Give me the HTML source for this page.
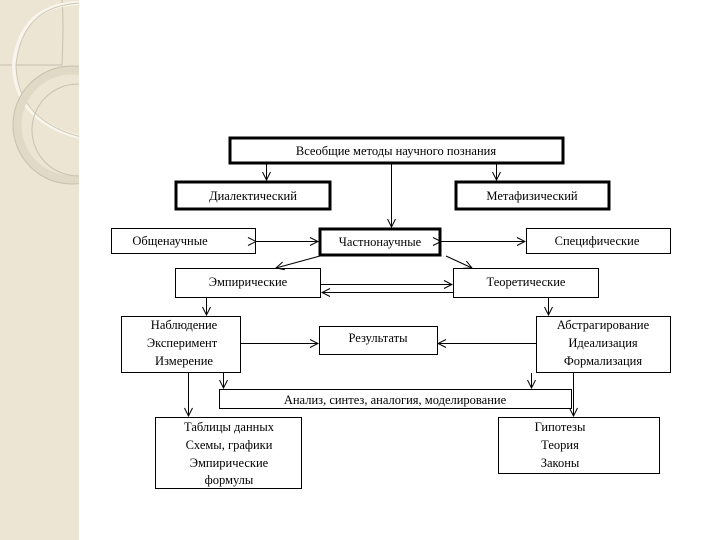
<!DOCTYPE html>
<html><head><meta charset="utf-8"><style>
html,body{margin:0;padding:0;background:#fff}
svg{display:block}
text{font-family:"Liberation Serif","DejaVu Serif",serif;font-size:12.5px;fill:#000}
</style></head><body>
<svg width="720" height="540" viewBox="0 0 720 540" xmlns="http://www.w3.org/2000/svg">
<defs>
<marker id="a" markerWidth="10" markerHeight="10" refX="9" refY="5" orient="auto" markerUnits="userSpaceOnUse">
<path d="M1,1 L9,5 L1,9" fill="none" stroke="#000" stroke-width="1"/>
</marker>
<clipPath id="c"><rect x="0" y="0" width="79" height="540"/></clipPath>
</defs>
<rect x="0" y="0" width="79" height="540" fill="#ece5d3"/>
<g clip-path="url(#c)" fill="none">
<path d="M0,65 L62,65 Q64,20 62,0" stroke="#c8c0ae" stroke-width="1"/>
<path d="M79,3 Q20,5 14,65 Q15,120 79,137" stroke="#f8f5ec" stroke-width="4"/>
<path d="M79,3 Q20,5 14,65 Q15,120 79,137" stroke="#cfc7b4" stroke-width="1" transform="translate(2,0)"/>
<circle cx="72" cy="125" r="55" stroke="#e0d9c6" stroke-width="9"/>
<circle cx="72" cy="125" r="59" stroke="#c9c1ae" stroke-width="1"/>
<circle cx="78" cy="130" r="46" stroke="#c9c1ae" stroke-width="1"/>
</g>
<g fill="#fff" stroke="#000">
<rect x="230" y="138" width="333" height="25" stroke-width="3"/>
<rect x="176" y="182" width="154" height="27" stroke-width="3"/>
<rect x="456" y="182" width="153" height="27" stroke-width="3"/>
<rect x="320" y="229" width="120" height="26" stroke-width="3"/>
<rect x="111.5" y="228.5" width="144" height="25" stroke-width="1"/>
<rect x="526.5" y="228.5" width="144" height="25" stroke-width="1"/>
<rect x="175.5" y="268.5" width="145" height="29" stroke-width="1"/>
<rect x="453.5" y="268.5" width="145" height="29" stroke-width="1"/>
<rect x="121.5" y="316.5" width="119" height="56" stroke-width="1"/>
<rect x="319.5" y="326.5" width="118" height="28" stroke-width="1"/>
<rect x="536.5" y="316.5" width="134" height="56" stroke-width="1"/>
<rect x="219.5" y="389.5" width="352" height="19" stroke-width="1"/>
<rect x="155.5" y="417.5" width="146" height="71" stroke-width="1"/>
<rect x="498.5" y="417.5" width="161" height="56" stroke-width="1"/>
</g>
<g stroke="#000" stroke-width="1" fill="none">
<line x1="266.5" y1="164" x2="266.5" y2="180" marker-end="url(#a)"/>
<line x1="496.5" y1="164" x2="496.5" y2="180" marker-end="url(#a)"/>
<line x1="391.5" y1="164" x2="391.5" y2="227" marker-end="url(#a)"/>
<line x1="256" y1="241.5" x2="318" y2="241.5" marker-end="url(#a)" marker-start="url(#a)"/>
<line x1="441" y1="241.5" x2="525" y2="241.5" marker-end="url(#a)" marker-start="url(#a)"/>
<line x1="320" y1="256" x2="276" y2="268" marker-end="url(#a)"/>
<line x1="446" y1="256" x2="472" y2="268" marker-end="url(#a)"/>
<line x1="321" y1="284.5" x2="452" y2="284.5" marker-end="url(#a)"/>
<line x1="453" y1="292.5" x2="322" y2="292.5" marker-end="url(#a)"/>
<line x1="206.5" y1="298" x2="206.5" y2="315" marker-end="url(#a)"/>
<line x1="548.5" y1="298" x2="548.5" y2="315" marker-end="url(#a)"/>
<line x1="241" y1="343.5" x2="318" y2="343.5" marker-end="url(#a)"/>
<line x1="536" y1="343.5" x2="438" y2="343.5" marker-end="url(#a)"/>
<line x1="188.5" y1="373" x2="188.5" y2="416" marker-end="url(#a)"/>
<line x1="223.5" y1="373" x2="223.5" y2="388" marker-end="url(#a)"/>
<line x1="531.5" y1="373" x2="531.5" y2="388" marker-end="url(#a)"/>
<line x1="573.5" y1="373" x2="573.5" y2="416" marker-end="url(#a)"/>
</g>
<g text-anchor="middle">
<text x="396" y="155">Всеобщие методы научного познания</text>
<text x="253" y="200">Диалектический</text>
<text x="532" y="200">Метафизический</text>
<text x="170" y="245">Общенаучные</text>
<text x="380" y="246">Частнонаучные</text>
<text x="597" y="245">Специфические</text>
<text x="248" y="286">Эмпирические</text>
<text x="526" y="286">Теоретические</text>
<text x="184" y="329">Наблюдение</text>
<text x="182" y="347">Эксперимент</text>
<text x="184" y="365">Измерение</text>
<text x="378" y="342">Результаты</text>
<text x="603" y="329">Абстрагирование</text>
<text x="603" y="347">Идеализация</text>
<text x="603" y="365">Формализация</text>
<text x="395" y="404">Анализ, синтез, аналогия, моделирование</text>
<text x="229" y="431">Таблицы данных</text>
<text x="229" y="449">Схемы, графики</text>
<text x="229" y="467">Эмпирические</text>
<text x="229" y="484">формулы</text>
<text x="560" y="431">Гипотезы</text>
<text x="560" y="449">Теория</text>
<text x="560" y="467">Законы</text>
</g>
</svg>
</body></html>
